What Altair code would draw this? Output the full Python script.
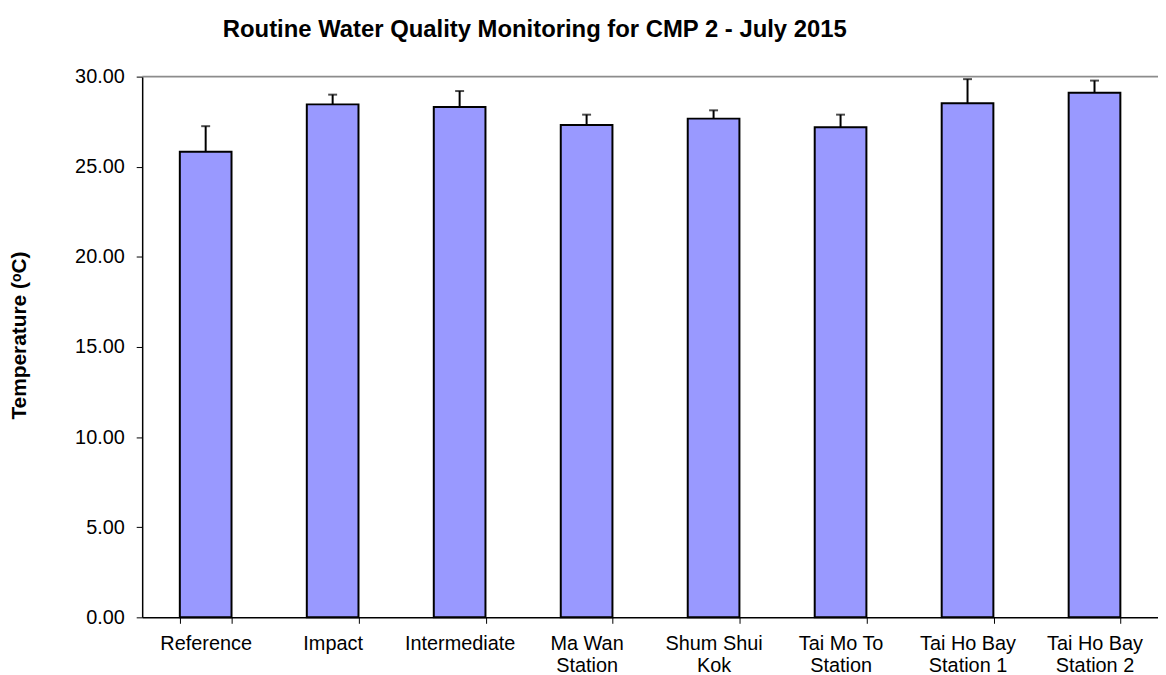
import altair as alt
import pandas as pd

categories = ["Reference", "Impact", "Intermediate", "Ma Wan\nStation", "Shum Shui\nKok",
              "Tai Mo To\nStation", "Tai Ho Bay\nStation 1", "Tai Ho Bay\nStation 2"]
means = [25.83, 28.46, 28.31, 27.32, 27.67, 27.19, 28.52, 29.10]
upper = [27.25, 29.00, 29.20, 27.89, 28.13, 27.89, 29.86, 29.78]

df = pd.DataFrame({"cat": categories, "mean": means, "upper": upper})

FONT = "Liberation Sans"
xenc = alt.X("cat:N", sort=categories, title=None,
             scale=alt.Scale(paddingInner=0.59, paddingOuter=0.295),
             axis=alt.Axis(labelExpr="split(datum.label, '\\n')", labelAngle=0,
                           labelFont=FONT, labelFontSize=20, labelColor="black",
                           labelPadding=10, tickBand="extent", tickSize=6,
                           tickColor="black", domainColor="black", domainWidth=1.5,
                           labelLineHeight=23))

base = alt.Chart(df)

grid = alt.Chart(pd.DataFrame({"v": [30]})).mark_rule(color="#8c8c8c", strokeWidth=2).encode(
    y=alt.Y("v:Q"))

bars = base.mark_bar(color="#9999ff", stroke="black", strokeWidth=2, size=52).encode(
    x=xenc,
    y=alt.Y("mean:Q", title="Temperature (ᵒC)",
            scale=alt.Scale(domain=[0, 30], nice=False),
            axis=alt.Axis(values=[0, 5, 10, 15, 20, 25, 30], format=".2f", grid=False,
                          labelFont=FONT, labelFontSize=20, labelColor="black",
                          titleFont=FONT, titleFontSize=21, titleFontWeight="bold",
                          titleColor="black", titleX=-123, titleY=260,
                          titleAlign="center", titleBaseline="middle", titleAngle=-90,
                          tickSize=6, tickColor="black", domainColor="black",
                          domainWidth=1.5, labelPadding=12)),
)

err = base.mark_rule(color="black", strokeWidth=2).encode(
    x=alt.X("cat:N", sort=categories), y="mean:Q", y2="upper:Q")

caps = base.mark_tick(color="black", thickness=2, size=9).encode(
    x=alt.X("cat:N", sort=categories), y="upper:Q")

chart = alt.layer(grid, bars, err, caps).properties(
    width=1022, height=544,
    autosize=alt.AutoSizeParams(type="none"),
    padding={"left": 135, "top": 67, "right": 0, "bottom": 60},
    title=alt.TitleParams("Routine Water Quality Monitoring for CMP 2 - July 2015",
                          font=FONT, fontSize=24, fontWeight="bold", color="black",
                          anchor="middle", dx=-116, offset=25),
).configure_view(stroke=None)

chart.save("out.html", embed_options={"renderer": "svg", "actions": False})
